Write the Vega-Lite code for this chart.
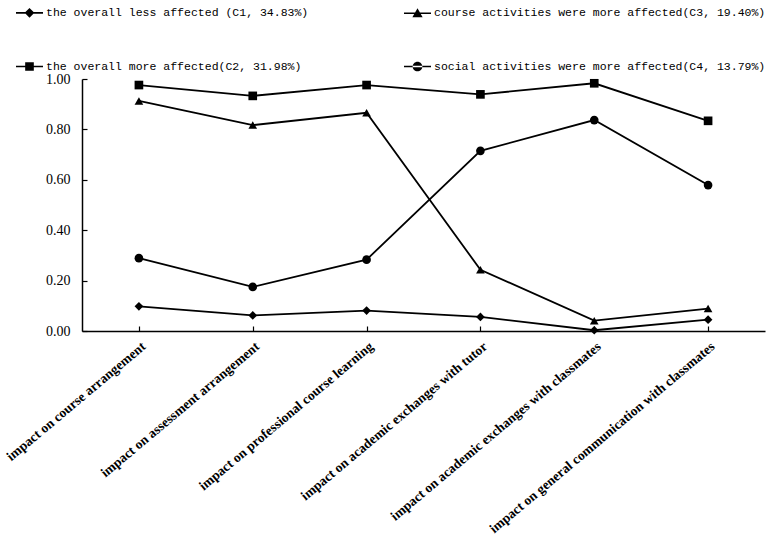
{
  "$schema": "https://vega.github.io/schema/vega-lite/v6.json",
  "autosize": {"type": "none"},
  "padding": {"left": 82, "top": 79, "right": 2, "bottom": 206},
  "width": 683,
  "height": 252,
  "background": "white",
  "config": {
    "view": {"stroke": null},
    "axis": {"grid": false, "domainColor": "black", "tickColor": "black", "labelColor": "black", "domainWidth": 1.5, "tickWidth": 1.2}
  },
  "data": {
    "values": [
      {"category": "impact on course arrangement", "series": "the overall less affected (C1, 34.83%)", "value": 0.098},
      {"category": "impact on assessment arrangement", "series": "the overall less affected (C1, 34.83%)", "value": 0.062},
      {"category": "impact on professional course learning", "series": "the overall less affected (C1, 34.83%)", "value": 0.081},
      {"category": "impact on academic exchanges with tutor", "series": "the overall less affected (C1, 34.83%)", "value": 0.056},
      {"category": "impact on academic exchanges with classmates", "series": "the overall less affected (C1, 34.83%)", "value": 0.003},
      {"category": "impact on general communication with classmates", "series": "the overall less affected (C1, 34.83%)", "value": 0.045},
      {"category": "impact on course arrangement", "series": "the overall more affected(C2, 31.98%)", "value": 0.976},
      {"category": "impact on assessment arrangement", "series": "the overall more affected(C2, 31.98%)", "value": 0.933},
      {"category": "impact on professional course learning", "series": "the overall more affected(C2, 31.98%)", "value": 0.976},
      {"category": "impact on academic exchanges with tutor", "series": "the overall more affected(C2, 31.98%)", "value": 0.939},
      {"category": "impact on academic exchanges with classmates", "series": "the overall more affected(C2, 31.98%)", "value": 0.983},
      {"category": "impact on general communication with classmates", "series": "the overall more affected(C2, 31.98%)", "value": 0.834},
      {"category": "impact on course arrangement", "series": "course activities were more affected(C3, 19.40%)", "value": 0.913},
      {"category": "impact on assessment arrangement", "series": "course activities were more affected(C3, 19.40%)", "value": 0.817},
      {"category": "impact on professional course learning", "series": "course activities were more affected(C3, 19.40%)", "value": 0.866},
      {"category": "impact on academic exchanges with tutor", "series": "course activities were more affected(C3, 19.40%)", "value": 0.243},
      {"category": "impact on academic exchanges with classmates", "series": "course activities were more affected(C3, 19.40%)", "value": 0.041},
      {"category": "impact on general communication with classmates", "series": "course activities were more affected(C3, 19.40%)", "value": 0.089},
      {"category": "impact on course arrangement", "series": "social activities were more affected(C4, 13.79%)", "value": 0.289},
      {"category": "impact on assessment arrangement", "series": "social activities were more affected(C4, 13.79%)", "value": 0.175},
      {"category": "impact on professional course learning", "series": "social activities were more affected(C4, 13.79%)", "value": 0.283},
      {"category": "impact on academic exchanges with tutor", "series": "social activities were more affected(C4, 13.79%)", "value": 0.715},
      {"category": "impact on academic exchanges with classmates", "series": "social activities were more affected(C4, 13.79%)", "value": 0.837},
      {"category": "impact on general communication with classmates", "series": "social activities were more affected(C4, 13.79%)", "value": 0.579}
    ]
  },
  "encoding": {
    "x": {
      "field": "category", "type": "nominal", "sort": null,
      "scale": {"type": "point", "padding": 0.5},
      "axis": {"title": null, "labelAngle": -40, "labelFont": "Liberation Serif", "labelFontWeight": "bold", "labelFontSize": 13.5, "tickSize": -5, "labelPadding": 13, "labelLimit": 0}
    },
    "y": {
      "field": "value", "type": "quantitative",
      "scale": {"domain": [0, 1], "nice": false, "zero": true},
      "axis": {"title": null, "values": [0, 0.2, 0.4, 0.6, 0.8, 1.0], "format": ".2f", "labelFont": "Liberation Serif", "labelFontSize": 14, "tickSize": -5, "labelPadding": 17}
    }
  },
  "resolve": {"scale": {"shape": "independent"}, "legend": {"shape": "independent"}},
  "layer": [
    {
      "mark": {"type": "line", "color": "black", "strokeWidth": 1.8},
      "encoding": {"detail": {"field": "series"}}
    },
    {
      "mark": {"type": "point", "filled": true, "color": "black", "size": 75, "opacity": 1},
      "encoding": {
        "shape": {
          "field": "series", "type": "nominal",
          "scale": {
            "domain": ["the overall less affected (C1, 34.83%)", "the overall more affected(C2, 31.98%)", "course activities were more affected(C3, 19.40%)", "social activities were more affected(C4, 13.79%)"],
            "range": ["diamond", "square", "triangle-up", "circle"]
          },
          "legend": null
        }
      }
    },
    {
      "transform": [{"filter": "false"}],
      "mark": {"type": "point", "filled": true, "color": "black", "opacity": 1},
      "encoding": {
        "shape": {
          "field": "series", "type": "nominal",
          "scale": {
            "domain": ["the overall less affected (C1, 34.83%)", "the overall more affected(C2, 31.98%)", "course activities were more affected(C3, 19.40%)", "social activities were more affected(C4, 13.79%)"],
            "range": [
              "M-1,-0.06H1V0.06H-1ZM0,-0.36L0.36,0L0,0.36L-0.36,0Z",
              "M-1,-0.06H1V0.06H-1ZM-0.32,-0.32H0.32V0.32H-0.32Z",
              "M-1,-0.06H1V0.06H-1ZM0,-0.38L0.38,0.29H-0.38Z",
              "M-1,-0.06H1V0.06H-1ZM-0.36,0A0.36,0.36 0 1,0 0.36,0A0.36,0.36 0 1,0 -0.36,0Z"
            ]
          },
          "legend": {
            "title": null, "orient": "none", "legendX": -67, "legendY": -81,
            "columns": 2, "columnPadding": 92, "rowPadding": 31,
            "symbolSize": 729, "labelOffset": 2,
            "symbolFillColor": "black", "symbolOpacity": 1,
            "labelFont": "Liberation Mono", "labelFontSize": 11.5, "labelColor": "black", "labelLimit": 0
          }
        }
      }
    }
  ]
}
